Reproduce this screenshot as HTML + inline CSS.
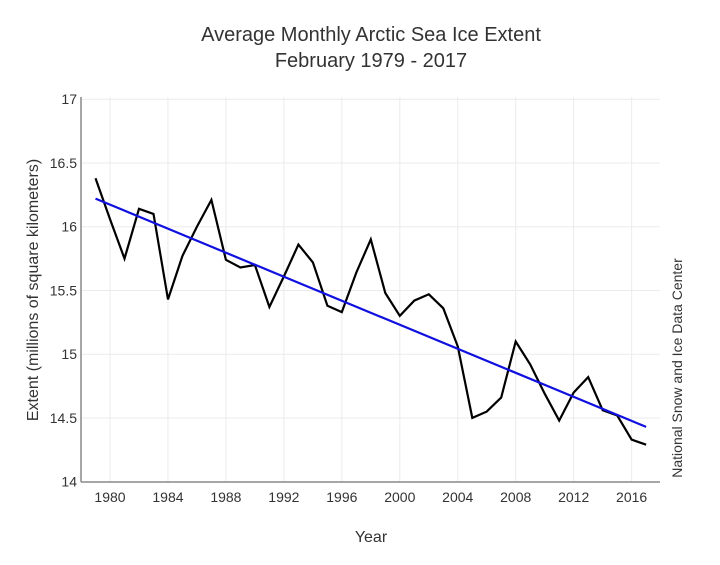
<!DOCTYPE html>
<html><head><meta charset="utf-8"><style>
body{margin:0;background:#fff;width:720px;height:560px;overflow:hidden}
svg text{font-family:"Liberation Sans",sans-serif;fill:#333}
</style></head><body>
<svg id="s" width="720" height="560" xmlns="http://www.w3.org/2000/svg">
<text x="371" y="41" font-size="20" text-anchor="middle">Average Monthly Arctic Sea Ice Extent</text>
<text x="371" y="67" font-size="20" text-anchor="middle">February 1979 - 2017</text>
<g id="grid" stroke="#ebebeb" stroke-width="1"></g>
<line x1="81" y1="97" x2="81" y2="482" stroke="#888" stroke-width="1.5"/>
<line x1="81" y1="482" x2="660" y2="482" stroke="#888" stroke-width="1.5"/>
<g id="lab" font-size="14"></g>
<path id="d" fill="none" stroke="#000" stroke-width="2.2" stroke-linejoin="miter"/>
<line id="t" stroke="#1010e0" stroke-width="2.2"/>
<text x="371" y="542" font-size="16" text-anchor="middle">Year</text>
<text transform="translate(38,290) rotate(-90)" font-size="16" text-anchor="middle">Extent (millions of square kilometers)</text>
<text transform="translate(682,368) rotate(-90)" font-size="14" text-anchor="middle">National Snow and Ice Data Center</text>
</svg>
<script>
var X=function(y){return 110+(y-1980)*14.49},Y=function(v){return 481.7-(v-14)*127.5};
var ns="http://www.w3.org/2000/svg",g=document.getElementById('grid'),l=document.getElementById('lab');
function el(p,t,a,txt){var e=document.createElementNS(ns,t);for(var k in a)e.setAttribute(k,a[k]);if(txt)e.textContent=txt;p.appendChild(e);}
for(var yr=1980;yr<=2016;yr+=4){el(g,'line',{x1:X(yr),x2:X(yr),y1:97,y2:482});el(l,'text',{x:X(yr),y:502,'text-anchor':'middle'},''+yr);}
[14,14.5,15,15.5,16,16.5,17].forEach(function(v){if(v>14)el(g,'line',{x1:81,x2:660,y1:Y(v),y2:Y(v)});el(l,'text',{x:77,y:Y(v)+5,'text-anchor':'end'},''+v);});
var d=[16.38,16.06,15.75,16.14,16.10,15.43,15.77,16.00,16.21,15.74,15.68,15.70,15.37,15.61,15.86,15.72,15.38,15.33,15.64,15.90,15.48,15.30,15.42,15.47,15.36,15.06,14.50,14.55,14.66,15.10,14.92,14.69,14.48,14.70,14.82,14.56,14.52,14.33,14.29];
document.getElementById('d').setAttribute('d',d.map(function(v,i){return (i?'L':'M')+X(1979+i).toFixed(1)+' '+Y(v).toFixed(1)}).join(''));
var t=document.getElementById('t');t.setAttribute('x1',X(1979));t.setAttribute('y1',Y(16.22));t.setAttribute('x2',X(2017));t.setAttribute('y2',Y(14.43));
</script>
</body></html>
